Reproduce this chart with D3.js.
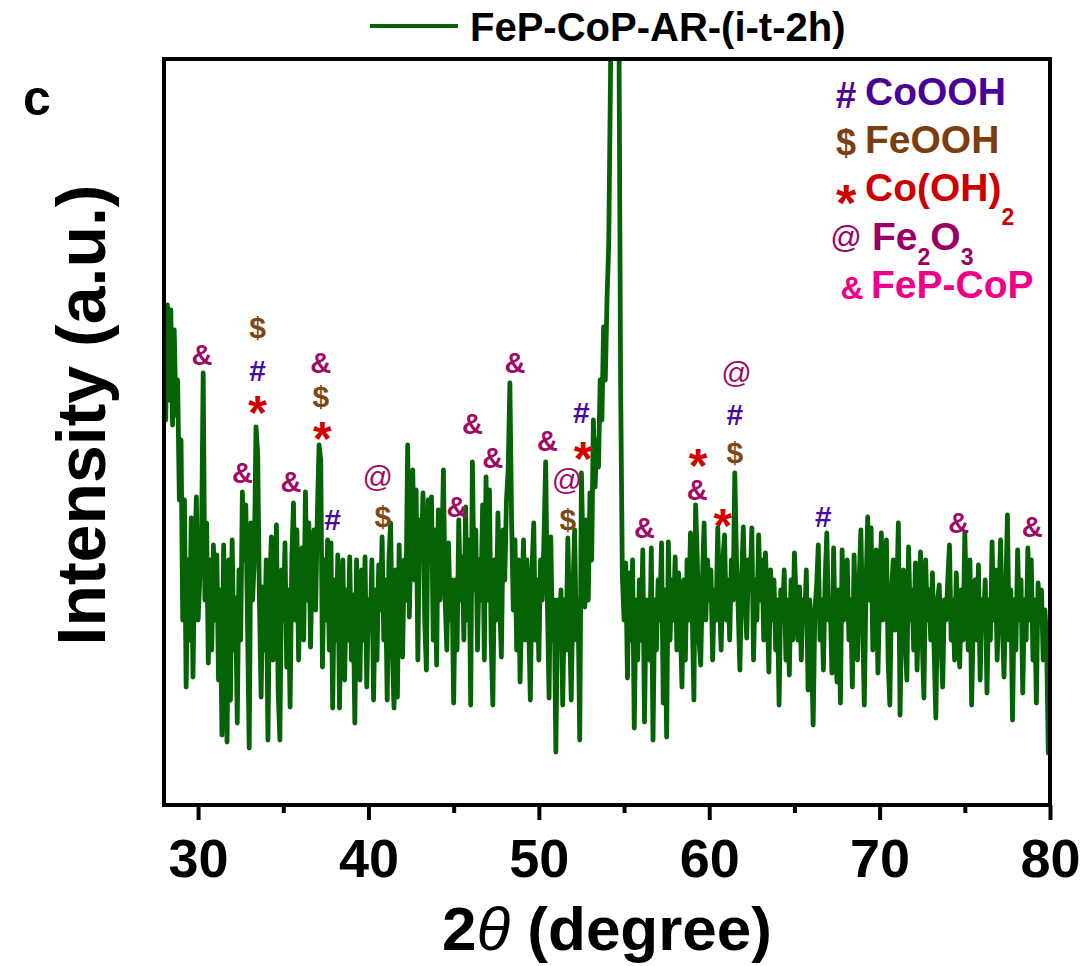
<!DOCTYPE html>
<html lang="en">
<head>
<meta charset="UTF-8">
<script src="https://cdn.jsdelivr.net/npm/d3@7/dist/d3.min.js"></script>
<title>XRD - FeP-CoP-AR-(i-t-2h)</title>
<style>
    body { margin: 0; background: #fff; }
    svg { display: block; font-family: "Liberation Sans", Arial, sans-serif; }
</style>
</head>
<body>
<script>
/*------------------------- data -------------------------*/
// pattern sampled every 0.1 degree, starting at 28.1
const thetaStart = 28.1;
const thetaStep = 0.1;
const intensity = [
    385, 500, 405, 495, 380, 475, 390, 425, 305, 365,
    185, 305, 118, 245, 165, 287, 128, 245, 308, 185,
    225, 260, 432, 205, 282, 142, 245, 155, 260, 185,
    250, 125, 215, 70, 260, 165, 63, 245, 105, 265,
    155, 207, 82, 235, 165, 313, 245, 300, 185, 57,
    282, 205, 245, 378, 350, 205, 108, 218, 155, 245,
    65, 215, 268, 145, 205, 280, 115, 65, 235, 185,
    262, 138, 215, 98, 245, 302, 185, 275, 145, 225,
    257, 165, 313, 205, 282, 158, 245, 275, 195, 290,
    360, 345, 138, 245, 185, 265, 155, 262, 97, 225,
    165, 250, 97, 205, 245, 125, 215, 165, 248, 145,
    210, 82, 245, 185, 125, 235, 165, 248, 118, 205,
    175, 245, 105, 215, 145, 240, 195, 268, 165, 225,
    105, 245, 282, 155, 97, 235, 108, 260, 195, 148,
    245, 205, 360, 188, 280, 335, 225, 315, 145, 285,
    245, 312, 185, 135, 305, 245, 308, 165, 275, 140,
    295, 205, 245, 335, 205, 155, 262, 185, 225, 102,
    225, 155, 285, 205, 248, 165, 298, 185, 265, 100,
    343, 215, 275, 155, 245, 205, 300, 145, 328, 205,
    315, 165, 100, 245, 185, 292, 205, 148, 275, 225,
    305, 335, 422, 285, 195, 265, 155, 245, 123, 205,
    265, 165, 245, 185, 105, 235, 282, 165, 225, 145,
    245, 205, 265, 343, 205, 107, 268, 165, 205, 53,
    205, 165, 215, 100, 205, 155, 267, 185, 105, 215,
    275, 165, 205, 65, 332, 245, 198, 285, 205, 312,
    245, 385, 318, 365, 338, 425, 385, 478, 425, 505,
    560, 720, 920, 1050, 1100, 1000, 780, 420, 230, 185,
    242, 127, 232, 165, 245, 77, 205, 145, 225, 165,
    255, 83, 205, 185, 145, 257, 65, 205, 155, 225,
    185, 262, 102, 215, 68, 263, 165, 225, 185, 248,
    155, 232, 185, 118, 225, 145, 245, 185, 272, 195,
    105, 300, 245, 165, 140, 225, 282, 185, 245, 205,
    235, 145, 215, 185, 277, 205, 155, 245, 270, 185,
    225, 165, 245, 205, 332, 245, 195, 135, 225, 278,
    205, 167, 245, 215, 277, 145, 225, 185, 270, 205,
    245, 165, 252, 205, 133, 235, 185, 225, 155, 205,
    100, 215, 185, 235, 145, 205, 130, 225, 165, 252,
    205, 165, 218, 145, 205, 185, 235, 115, 205, 155,
    80, 195, 218, 260, 165, 205, 135, 225, 272, 185,
    205, 132, 257, 165, 123, 215, 102, 255, 185, 205,
    245, 165, 205, 118, 250, 185, 145, 225, 275, 185,
    100, 215, 288, 205, 277, 155, 205, 255, 132, 205,
    272, 185, 225, 265, 145, 100, 215, 245, 175, 205,
    282, 90, 205, 235, 165, 125, 258, 185, 215, 155,
    242, 135, 205, 253, 165, 107, 245, 185, 215, 165,
    232, 155, 87, 205, 220, 165, 118, 205, 185, 225,
    260, 165, 205, 145, 232, 185, 138, 215, 165, 272,
    205, 155, 245, 100, 185, 225, 165, 240, 125, 205,
    185, 225, 112, 205, 165, 263, 185, 235, 145, 205,
    265, 185, 128, 205, 290, 165, 215, 85, 205, 155,
    255, 185, 225, 112, 205, 165, 257, 185, 245, 145,
    205, 102, 222, 185, 215, 145, 195, 165, 52, 165
];

const xTicks = [30, 40, 50, 60, 70, 80];
const xMinorTicks = [35, 45, 55, 65, 75];

// phase marks above the peaks: symbol, 2theta, height (same units as intensity)
const markSymbols = ["&", "$", "#", "*", "&", "&", "$", "*", "&", "#",
    "@", "$", "&", "&", "&", "&", "&", "#", "*", "@",
    "$", "&", "*", "&", "*", "@", "#", "$", "#", "&", "&"];
const markTheta = [30.23, 33.5, 33.5, 33.5, 32.6, 37.2, 37.2, 37.3, 35.45, 37.9,
    40.55, 40.85, 45.2, 46.1, 47.3, 48.6, 50.5, 52.5, 52.6, 51.65,
    51.7, 56.2, 59.35, 59.3, 60.8, 61.6, 61.5, 61.5, 66.7, 74.65, 78.95];
const markLevel = [450, 477, 435, 403, 332, 442, 408, 377, 323, 286,
    326, 288, 298, 381, 347, 442, 364, 393, 357, 323,
    285, 277, 350, 315, 290, 430, 391, 352, 289, 282, 278];

// legend
const legendSymbols = ["#", "$", "*", "@", "&"];
const legendNames = [["CoOOH"], ["FeOOH"], ["Co(OH)", "2"], ["Fe", "2", "O", "3"], ["FeP-CoP"]];
const legendColors = ["#4b0096", "#7a3e10", "#cc0000", "#990066", "#ee0088"];
const seriesName = "FeP-CoP-AR-(i-t-2h)";

/*------------------------ styles ------------------------*/
const markColor = {"#": "#4a0a9e", "$": "#7d4714", "*": "#d40000", "@": "#9e0a64", "&": "#9e0a64"};
const markSize = {"#": 30, "$": 30, "*": 48, "@": 30, "&": 29};
const markWeight = {"#": "bold", "$": "bold", "*": "bold", "@": "normal", "&": "bold"};
// distance from glyph centre to baseline, in em
const markShift = {"#": 0.35, "$": 0.34, "*": 0.57, "@": 0.27, "&": 0.36};
const lineColor = "#056305";

/*------------------------ layout ------------------------*/
const W = 1086, H = 966;
const plot = {left: 164, right: 1050, top: 59, bottom: 805};

const svg = d3.select("body").append("svg")
    .attr("width", W)
    .attr("height", H);

const x = d3.scaleLinear().domain([28, 80]).range([plot.left, plot.right]);
const y = d3.scaleLinear().domain([0, 746]).range([plot.bottom, plot.top]);

svg.append("clipPath").attr("id", "clip")
    .append("rect")
    .attr("x", plot.left).attr("y", plot.top)
    .attr("width", plot.right - plot.left).attr("height", plot.bottom - plot.top);

/*------------------------ pattern -----------------------*/
const line = d3.line()
    .x((d, i) => x(thetaStart + i * thetaStep))
    .y(d => y(d));

svg.append("path")
    .datum(intensity)
    .attr("clip-path", "url(#clip)")
    .attr("d", line)
    .attr("fill", "none")
    .attr("stroke", lineColor)
    .attr("stroke-width", 4.8)
    .attr("stroke-linejoin", "round")
    .attr("stroke-linecap", "round");

/*------------------------ frame & axis ------------------*/
svg.append("rect")
    .attr("x", plot.left).attr("y", plot.top)
    .attr("width", plot.right - plot.left).attr("height", plot.bottom - plot.top)
    .attr("fill", "none")
    .attr("stroke", "#000")
    .attr("stroke-width", 4);

const xAxis = svg.append("g")
    .attr("transform", `translate(0,${plot.bottom})`)
    .call(d3.axisBottom(x).tickValues(xTicks).tickSize(15).tickPadding(19).tickFormat(d3.format("d")));
xAxis.select(".domain").remove();
xAxis.selectAll("line").attr("stroke-width", 4).attr("stroke", "#000");
xAxis.selectAll("text")
    .attr("font-size", 54)
    .attr("font-weight", "bold")
    .attr("fill", "#000")
    .attr("font-family", "'Liberation Sans', Arial, sans-serif");

const xMinor = svg.append("g")
    .attr("transform", `translate(0,${plot.bottom})`)
    .call(d3.axisBottom(x).tickValues(xMinorTicks).tickSize(8).tickFormat(""));
xMinor.select(".domain").remove();
xMinor.selectAll("line").attr("stroke-width", 4).attr("stroke", "#000");

/*------------------------ titles ------------------------*/
const xTitle = svg.append("text")
    .attr("x", (plot.left + plot.right) / 2)
    .attr("y", 950)
    .attr("text-anchor", "middle")
    .attr("font-size", 62)
    .attr("font-weight", "bold");
xTitle.append("tspan").text("2");
xTitle.append("tspan").attr("font-style", "italic").attr("font-weight", "normal").text("\u03B8");
xTitle.append("tspan").text(" (degree)");

svg.append("text")
    .attr("transform", `translate(105,${415}) rotate(-90)`)
    .attr("text-anchor", "middle")
    .attr("font-size", 68)
    .attr("font-weight", "bold")
    .text("Intensity (a.u.)");

svg.append("text")
    .attr("x", 37).attr("y", 115)
    .attr("text-anchor", "middle")
    .attr("font-size", 50)
    .attr("font-weight", "bold")
    .text("c");

// series legend on top
svg.append("line")
    .attr("x1", 370).attr("x2", 458)
    .attr("y1", 26).attr("y2", 26)
    .attr("stroke", lineColor)
    .attr("stroke-width", 4);
svg.append("text")
    .attr("x", 470).attr("y", 41)
    .attr("font-size", 40)
    .attr("font-weight", "bold")
    .text(seriesName);

/*------------------------ peak marks --------------------*/
svg.append("g").selectAll("text")
    .data(markSymbols)
    .join("text")
    .attr("x", (d, i) => x(markTheta[i]))
    .attr("y", (d, i) => y(markLevel[i]))
    .attr("dy", d => markShift[d] + "em")
    .attr("text-anchor", "middle")
    .attr("font-size", d => markSize[d])
    .attr("font-weight", d => markWeight[d])
    .attr("fill", d => markColor[d])
    .text(d => d);

/*------------------------ phase legend ------------------*/
const legendSymSize = {"#": 37, "$": 36, "*": 52, "@": 31, "&": 32};
const rows = svg.append("g").selectAll("g")
    .data(legendSymbols)
    .join("g")
    .attr("transform", (d, i) => `translate(0,${105 + i * 48.2})`);

rows.append("text")
    .attr("x", (d, i) => i === 4 ? 852 : 846)
    .attr("y", -10)
    .attr("dy", d => markShift[d] + "em")
    .attr("text-anchor", "middle")
    .attr("font-size", d => legendSymSize[d])
    .attr("font-weight", d => markWeight[d])
    .attr("fill", (d, i) => legendColors[i])
    .text(d => d);

rows.append("text")
    .attr("x", (d, i) => i === 3 ? 872 : (i === 4 ? 871 : 865))
    .attr("y", 0)
    .attr("font-size", 39)
    .attr("font-weight", "bold")
    .attr("fill", (d, i) => legendColors[i])
    .each(function(d, i) {
        const t = d3.select(this);
        const parts = legendNames[i];
        const drop = i === 2 ? 24 : 15;
        parts.forEach((p, k) => {
            const sub = k % 2 === 1;
            t.append("tspan")
                .attr("dy", k === 0 ? 0 : (sub ? drop : -drop))
                .attr("font-size", sub ? 23 : 39)
                .text(p);
        });
    });
</script>
</body>
</html>
